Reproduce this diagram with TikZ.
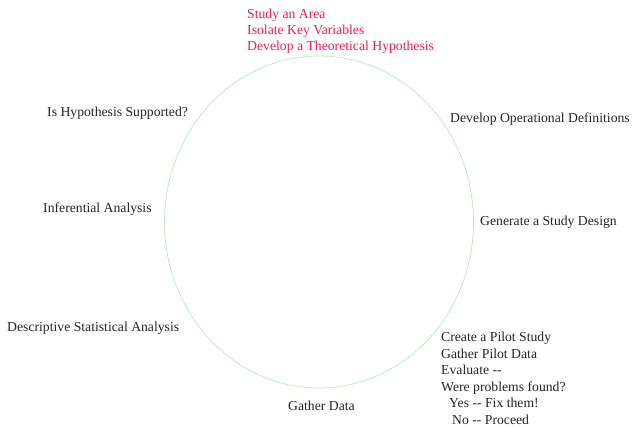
\documentclass[tikz,border=0pt]{standalone}
\usepackage{fontspec}
\setmainfont{Liberation Serif}
\usepackage{xcolor}
\usepackage{tikz}
\usetikzlibrary{positioning}
\definecolor{stepc}{HTML}{2B2323}
\definecolor{startc}{HTML}{EB1E50}
\definecolor{ringc}{HTML}{B8E8B8}

\begin{document}
\begin{tikzpicture}[x=1pt, y=-1pt, font=\fontsize{13.7}{16.5}\selectfont,
    stage/.style={anchor=west, inner sep=0pt, align=left, text=stepc},
    ring/.style={draw=ringc, line width=0.7pt}]
  \useasboundingbox (0,0) rectangle (634,427);
  \draw[ring] (319,222) ellipse [x radius=154.5pt, y radius=166pt];
  \node[stage, text=startc, font=\fontsize{13.7}{16}\selectfont] (start) at (247,31) {Study an Area\\Isolate Key Variables\\Develop a Theoretical Hypothesis};
  \node[stage] (define) at (450,119) {Develop Operational Definitions};
  \node[stage] (design) at (480,222) {Generate a Study Design};
  \node[stage] (pilot) at (441,378.5) {Create a Pilot Study\\Gather Pilot Data\\Evaluate -{}-\\Were problems found?\\\hspace*{8pt}Yes -{}- Fix them!\\\hspace*{11pt}No -{}- Proceed};
  \node[stage] (gather) at (288,406) {Gather Data};
  \node[stage] (descr) at (7,328) {Descriptive Statistical Analysis};
  \node[stage] (infer) at (43,209) {Inferential Analysis};
  \node[stage] (check) at (47,113) {Is Hypothesis Supported?};
\end{tikzpicture}
\end{document}
